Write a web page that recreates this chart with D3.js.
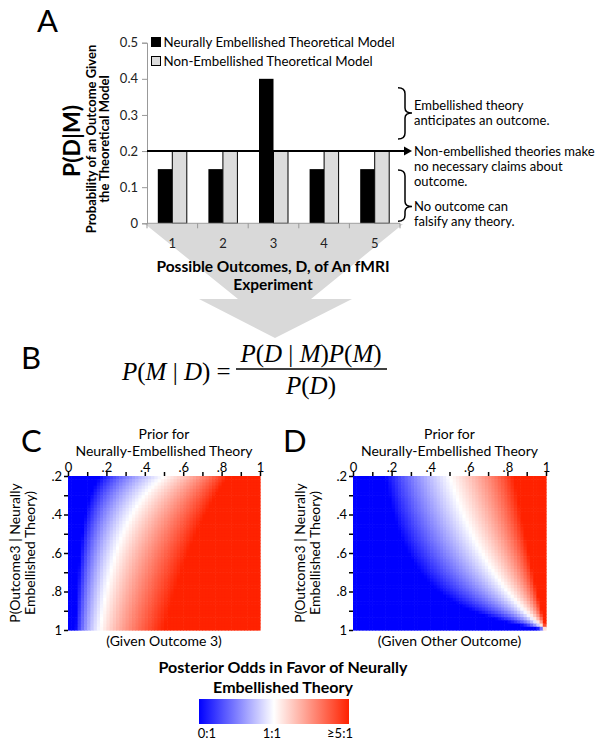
<!DOCTYPE html>
<html>
<head>
<meta charset="utf-8">
<script src="https://cdn.jsdelivr.net/npm/d3@7"></script>
<style>
  body { margin: 0; background: #fff; }
  svg { font-family: Lato, "Open Sans", sans-serif; }
</style>
</head>
<body>
<script>
// data
const outcomes = ["1", "2", "3", "4", "5"];
const neurallyEmbellished = [0.15, 0.15, 0.4, 0.15, 0.15];
const nonEmbellished = [0.2, 0.2, 0.2, 0.2, 0.2];
const probTicks = [0, 0.1, 0.2, 0.3, 0.4, 0.5];
const priorTicks = [0, 0.1, 0.2, 0.3, 0.4, 0.5, 0.6, 0.7, 0.8, 0.9, 1];
const likelihoodTicks = [0.2, 0.3, 0.4, 0.5, 0.6, 0.7, 0.8, 0.9, 1];
const oddsLabels = ["0:1", "1:1", "\u22655:1"];
const oddsCap = 5;

var width = 603, height = 740;

var svg = d3.select("body").append("svg")
  .attr("width", width)
  .attr("height", height);

// ---------- panel A ----------
var x = d3.scaleBand().domain(outcomes).range([147, 400]);
var y = d3.scaleLinear().domain([0, 0.5]).range([223.3, 42.7]);
var barW = 14.5;

// grey funnel arrow behind the axis
svg.append("polygon")
  .attr("points", "145,224 403,224 311,299 352,299 275,338 199,299 238,299")
  .attr("fill", "#d9d9d9");

svg.append("text").attr("x", 37).attr("y", 32)
  .attr("font-size", 31).text("A");

svg.selectAll(".barN")
  .data(neurallyEmbellished)
  .enter().append("rect")
  .attr("x", function (d, i) { return x(outcomes[i]) + x.bandwidth() / 2 - barW; })
  .attr("width", barW)
  .attr("y", function (d) { return y(d); })
  .attr("height", function (d) { return y(0) - y(d); })
  .attr("fill", "#000");

svg.selectAll(".barG")
  .data(nonEmbellished)
  .enter().append("rect")
  .attr("x", function (d, i) { return x(outcomes[i]) + x.bandwidth() / 2; })
  .attr("width", barW)
  .attr("y", function (d) { return y(d); })
  .attr("height", function (d) { return y(0) - y(d); })
  .attr("fill", "#dcdcdc")
  .attr("stroke", "#000")
  .attr("stroke-width", 1);

// y axis
var yAxis = svg.append("g")
  .attr("transform", "translate(147,0)")
  .call(d3.axisLeft(y).tickValues(probTicks).tickSize(5).tickPadding(4)
    .tickFormat(function (d) { return d === 0 ? "0" : d3.format(".1f")(d); }));
yAxis.selectAll("path, line").attr("stroke", "#999");
yAxis.selectAll("text").attr("font-size", 13).attr("fill", "#222")
  .attr("font-family", "Lato");

// x axis: line and ticks at band edges
var xAxis = svg.append("g").attr("transform", "translate(0," + y(0) + ")");
xAxis.append("line").attr("x1", 147).attr("x2", 400).attr("stroke", "#999");
xAxis.selectAll(".tk")
  .data(outcomes.concat(["end"]))
  .enter().append("line")
  .attr("x1", function (d, i) { return 147 + i * x.bandwidth(); })
  .attr("x2", function (d, i) { return 147 + i * x.bandwidth(); })
  .attr("y1", 0).attr("y2", 5).attr("stroke", "#999");
xAxis.selectAll(".lbl")
  .data(outcomes)
  .enter().append("text")
  .attr("x", function (d) { return x(d) + x.bandwidth() / 2; })
  .attr("y", 25)
  .attr("text-anchor", "middle")
  .attr("font-size", 13)
  .attr("fill", "#222")
  .text(function (d) { return d; });

// 0.2 arrow line
var y02 = y(nonEmbellished[0]);
svg.append("line")
  .attr("x1", 147).attr("x2", 405).attr("y1", y02).attr("y2", y02)
  .attr("stroke", "#000").attr("stroke-width", 2);
svg.append("polygon")
  .attr("points", "404," + (y02 - 4.5) + " 412," + y02 + " 404," + (y02 + 4.5))
  .attr("fill", "#000");

// axis titles
svg.append("text")
  .attr("transform", "translate(80,141) rotate(-90)")
  .attr("text-anchor", "middle").attr("font-size", 23).attr("font-weight", "bold")
  .text("P(D|M)");
svg.append("text")
  .attr("transform", "translate(95.5,139) rotate(-90)")
  .attr("text-anchor", "middle").attr("font-size", 13).attr("font-weight", "bold")
  .text("Probability of an Outcome Given");
svg.append("text")
  .attr("transform", "translate(108.5,139) rotate(-90)")
  .attr("text-anchor", "middle").attr("font-size", 13).attr("font-weight", "bold")
  .text("the Theoretical Model");

svg.append("text").attr("x", 273).attr("y", 272)
  .attr("text-anchor", "middle").attr("font-size", 15.5).attr("font-weight", "bold")
  .text("Possible Outcomes, D, of An fMRI");
svg.append("text").attr("x", 273).attr("y", 290)
  .attr("text-anchor", "middle").attr("font-size", 15.5).attr("font-weight", "bold")
  .text("Experiment");

// legend
var legend = [
  { label: "Neurally Embellished Theoretical Model", fill: "#000" },
  { label: "Non-Embellished Theoretical Model", fill: "#dcdcdc" }
];
var lg = svg.selectAll(".legend")
  .data(legend)
  .enter().append("g")
  .attr("transform", function (d, i) { return "translate(151.5," + (37.5 + i * 19) + ")"; });
lg.append("rect").attr("width", 9).attr("height", 9)
  .attr("fill", function (d) { return d.fill; }).attr("stroke", "#000");
lg.append("text").attr("x", 12).attr("y", 9).attr("font-size", 13.3)
  .text(function (d) { return d.label; });

// braces and notes
function brace(top, bottom, tip) {
  return "M398," + top + " Q405," + top + " 405," + (top + 6) +
    " L405," + (tip - 5) + " Q405," + tip + " 412," + tip +
    " Q405," + tip + " 405," + (tip + 5) +
    " L405," + (bottom - 6) + " Q405," + bottom + " 398," + bottom;
}
svg.append("path").attr("d", brace(y(0.4) + 9, y(0.2) - 12, 113))
  .attr("fill", "none").attr("stroke", "#000").attr("stroke-width", 1.5);
svg.append("path").attr("d", brace(y(0.2) + 19, y(0) - 2, 206.5))
  .attr("fill", "none").attr("stroke", "#000").attr("stroke-width", 1.5);

var notes = [
  ["Embellished theory", 109.5],
  ["anticipates an outcome.", 124.5],
  ["Non-embellished theories make", 155.5],
  ["no necessary claims about", 170.5],
  ["outcome.", 185.5],
  ["No outcome can", 211],
  ["falsify any theory.", 226]
];
svg.selectAll(".note")
  .data(notes)
  .enter().append("text")
  .attr("x", 414).attr("y", function (d) { return d[1]; })
  .attr("font-size", 13)
  .text(function (d) { return d[0]; });

// ---------- panel B ----------
svg.append("text").attr("x", 21).attr("y", 369)
  .attr("font-size", 31).text("B");

function formula(parts, xPos, yPos, anchor) {
  var t = svg.append("text")
    .attr("x", xPos).attr("y", yPos)
    .attr("text-anchor", anchor)
    .attr("font-family", "Liberation Serif, serif")
    .attr("font-size", 25);
  parts.forEach(function (p) {
    t.append("tspan")
      .attr("font-style", p[1] ? "italic" : "normal")
      .text(p[0]);
  });
}
formula([["P", 1], ["(", 0], ["M", 1], [" | ", 0], ["D", 1], [")", 0], [" = ", 0]], 122, 380, "start");
formula([["P", 1], ["(", 0], ["D", 1], [" | ", 0], ["M", 1], [")", 0], ["P", 1], ["(", 0], ["M", 1], [")", 0]], 311, 362, "middle");
formula([["P", 1], ["(", 0], ["D", 1], [")", 0]], 311, 394, "middle");
svg.append("line").attr("x1", 236).attr("x2", 387).attr("y1", 369).attr("y2", 369)
  .attr("stroke", "#000").attr("stroke-width", 1.3);

// ---------- panels C and D ----------
var blue = "#0000ff", red = "#ff2200";
function oddsColor(o) {
  var t = o <= 0 ? -1 : Math.max(-1, Math.min(1, Math.log(o) / Math.log(oddsCap)));
  return t < 0 ? d3.interpolateRgb("#ffffff", blue)(-t) : d3.interpolateRgb("#ffffff", red)(t);
}
function tickLabel(v) {
  if (v === 0) return "0";
  if (v === 1) return "1";
  return v.toFixed(1).replace(/^0/, "");
}
function isMajor(v) { return Math.round(v * 10) % 2 === 0; }

var panels = [
  { letter: "C", lx: 21, x0: 68, w: 192, caption: "(Given Outcome 3)",
    lik: function (l) { return l; }, likNon: nonEmbellished[2] },
  { letter: "D", lx: 283, x0: 353, w: 193, caption: "(Given Other Outcome)",
    lik: function (l) { return (1 - l) / (outcomes.length - 1); }, likNon: nonEmbellished[0] }
];
var plotTop = 476, plotBottom = 630;
var nx = 60, ny = 48;

panels.forEach(function (p) {
  var xs = d3.scaleLinear().domain([0, 1]).range([p.x0, p.x0 + p.w]);
  var ys = d3.scaleLinear().domain([0.2, 1]).range([plotTop, plotBottom]);

  // posterior odds = prior odds x likelihood ratio (panel B)
  var cells = [];
  d3.range(ny).forEach(function (j) {
    d3.range(nx).forEach(function (i) {
      var prior = (i + 0.5) / nx;
      var l = 0.2 + (j + 0.5) / ny * 0.8;
      var odds = prior / (1 - prior) * p.lik(l) / p.likNon;
      cells.push({ i: i, j: j, odds: odds });
    });
  });
  var g = svg.append("g");
  g.selectAll("rect")
    .data(cells)
    .enter().append("rect")
    .attr("x", function (d) { return xs(d.i / nx); })
    .attr("y", function (d) { return ys(0.2 + d.j / ny * 0.8); })
    .attr("width", xs(1 / nx) - xs(0) + 0.6)
    .attr("height", ys(0.2 + 0.8 / ny) - ys(0.2) + 0.6)
    .attr("fill", function (d) { return oddsColor(d.odds); });

  var ax = svg.append("g").attr("transform", "translate(0," + plotTop + ")")
    .call(d3.axisTop(xs).tickValues(priorTicks).tickSize(4).tickPadding(0)
      .tickFormat(function (v) { return isMajor(v) ? tickLabel(v) : ""; }));
  ax.select(".domain").remove();
  ax.selectAll("line").attr("stroke", "#000").attr("stroke-width", 1.5);
  ax.selectAll("text").attr("font-size", 13).attr("fill", "#000").attr("font-family", "Lato");

  var ay = svg.append("g").attr("transform", "translate(" + p.x0 + ",0)")
    .call(d3.axisLeft(ys).tickValues(likelihoodTicks).tickSize(4).tickPadding(2)
      .tickFormat(function (v) { return isMajor(v) ? tickLabel(v) : ""; }));
  ay.select(".domain").remove();
  ay.selectAll("line").attr("stroke", "#000").attr("stroke-width", 1.5);
  ay.selectAll("text").attr("font-size", 13).attr("fill", "#000").attr("font-family", "Lato");

  var cx = p.x0 + p.w / 2;
  svg.append("text").attr("x", p.lx).attr("y", 452).attr("font-size", 31).text(p.letter);
  svg.append("text").attr("x", cx).attr("y", 439).attr("text-anchor", "middle")
    .attr("font-size", 14).text("Prior for");
  svg.append("text").attr("x", cx).attr("y", 456).attr("text-anchor", "middle")
    .attr("font-size", 14).text("Neurally-Embellished Theory");
  svg.append("text").attr("x", cx).attr("y", 646).attr("text-anchor", "middle")
    .attr("font-size", 14).text(p.caption);

  var my = (plotTop + plotBottom) / 2;
  svg.append("text")
    .attr("transform", "translate(" + (p.x0 - 48) + "," + my + ") rotate(-90)")
    .attr("text-anchor", "middle").attr("font-size", 14)
    .text("P(Outcome3 | Neurally");
  svg.append("text")
    .attr("transform", "translate(" + (p.x0 - 33) + "," + my + ") rotate(-90)")
    .attr("text-anchor", "middle").attr("font-size", 14)
    .text("Embellished Theory)");
});

// ---------- colour bar ----------
svg.append("text").attr("x", 283).attr("y", 673).attr("text-anchor", "middle")
  .attr("font-size", 16).attr("font-weight", "bold")
  .text("Posterior Odds in Favor of Neurally");
svg.append("text").attr("x", 283).attr("y", 693).attr("text-anchor", "middle")
  .attr("font-size", 16).attr("font-weight", "bold")
  .text("Embellished Theory");

var grad = svg.append("defs").append("linearGradient").attr("id", "oddsGrad");
var cbScale = d3.scaleLinear().domain([0, 1]).range([-1, 1]);
d3.range(0, 1.0001, 0.05).forEach(function (s) {
  var t = cbScale(s);
  grad.append("stop").attr("offset", s)
    .attr("stop-color", oddsColor(Math.pow(oddsCap, t)));
});
svg.append("rect").attr("x", 199).attr("y", 699).attr("width", 150).attr("height", 25)
  .attr("fill", "url(#oddsGrad)");
svg.selectAll(".cbl")
  .data(oddsLabels)
  .enter().append("text")
  .attr("x", function (d, i) { return [207, 272, 340][i]; })
  .attr("y", 738)
  .attr("text-anchor", "middle")
  .attr("font-size", 13)
  .text(function (d) { return d; });
</script>
</body>
</html>
